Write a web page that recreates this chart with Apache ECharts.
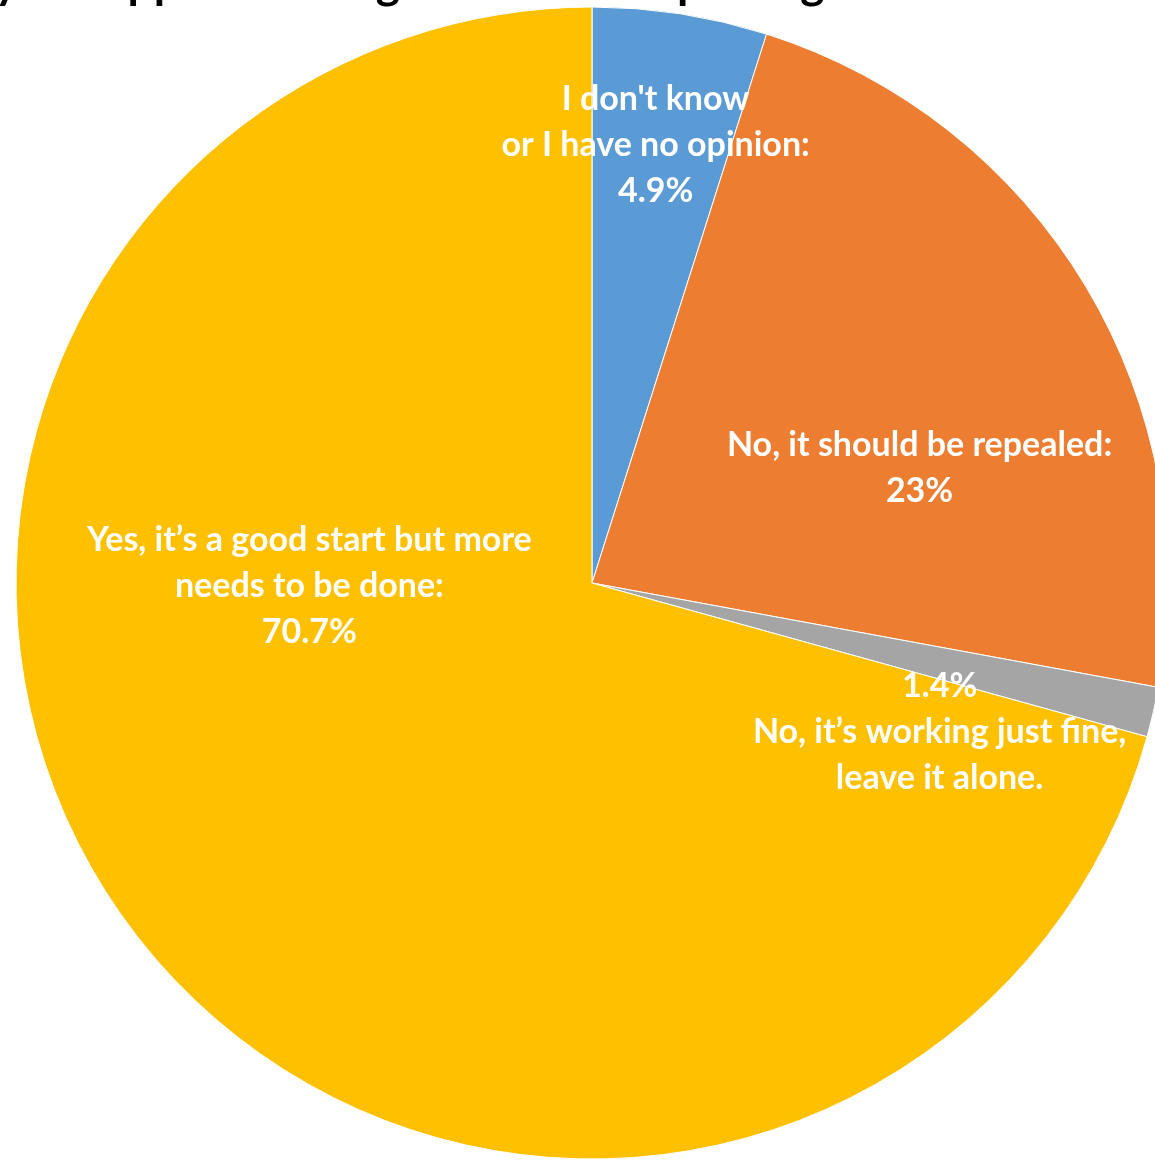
<!DOCTYPE html>
<html>
<head>
<meta charset="utf-8">
<script src="https://cdn.jsdelivr.net/npm/echarts@6/dist/echarts.min.js"></script>
<style>
html,body{margin:0;padding:0;background:#fff;}
#chart{width:1155px;height:1160px;}
</style>
</head>
<body>
<div id="chart"></div>
<script>
// ---- data ----
var categories = [
  "I don't know\nor I have no opinion:",
  "No, it should be repealed:",
  "No, it\u2019s working just fine,\nleave it alone.",
  "Yes, it\u2019s a good start but more\nneeds to be done:"
];
var values = [4.9, 23, 1.4, 70.7];
var valueLabels = ["4.9%", "23%", "1.4%", "70.7%"];
var valueFirst = [false, false, true, false];
var colors = ["#5B9BD5", "#ED7D31", "#A5A5A5", "#FFC000"];
var titleText = "Do you support making reforms or repealing it?";

// label shifts from the default inside anchor (layout only)
var labelShift = [[19, -150], [78, 35], [64, 84], [-51, -173]];

var chart = echarts.init(document.getElementById('chart'), null, {renderer: 'canvas'});
var data = categories.map(function (c, i) {
  return { name: c, value: values[i], itemStyle: { color: colors[i] } };
});

chart.setOption({
  animation: false,
  backgroundColor: '#ffffff',
  graphic: [{
    type: 'text',
    x: -78,
    y: 6,
    z: 100,
    style: {
      text: titleText,
      font: 'bold 46px Lato, "Open Sans", sans-serif',
      fill: '#000000',
      verticalAlign: 'bottom',
      align: 'left'
    }
  }],
  series: [{
    type: 'pie',
    center: [592, 583],
    radius: [0, 576],
    startAngle: 90,
    clockwise: true,
    avoidLabelOverlap: false,
    itemStyle: { borderColor: '#ffffff', borderWidth: 1 },
    label: {
      show: true,
      position: 'inside',
      color: '#ffffff',
      fontFamily: 'Lato, "Open Sans", sans-serif',
      fontWeight: 'bold',
      fontSize: 34,
      lineHeight: 46,
      align: 'center',
      formatter: function (p) {
        var i = p.dataIndex;
        return valueFirst[i] ? valueLabels[i] + '\n' + categories[i]
                             : categories[i] + '\n' + valueLabels[i];
      }
    },
    labelLine: { show: false },
    labelLayout: function (params) {
      var s = labelShift[params.dataIndex];
      return { dx: s[0], dy: s[1] };
    },
    emphasis: { disabled: true },
    data: data
  }]
});
</script>
</body>
</html>
